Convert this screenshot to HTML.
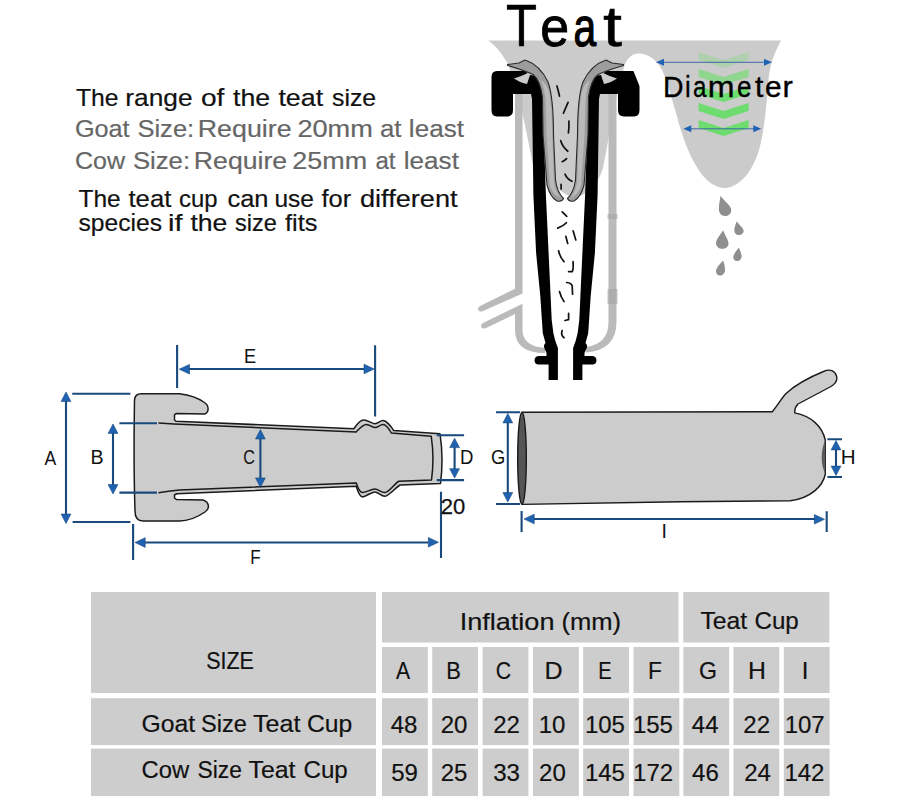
<!DOCTYPE html>
<html><head><meta charset="utf-8">
<style>
html,body{margin:0;padding:0;background:#fff;}
body{width:900px;height:800px;overflow:hidden;position:relative;}
svg{position:absolute;left:0;top:0;}
text{font-family:"Liberation Sans",sans-serif;}
</style></head>
<body>
<svg width="900" height="800" viewBox="0 0 900 800">
<!-- LEFT TEXT -->
<g font-size="24" fill="#111" stroke="#111" stroke-width="0.2">
<text transform="translate(75.98,105.7) scale(1.03,1)">The</text>
<text transform="translate(125.28,105.7) scale(1.097,1)">range</text>
<text transform="translate(200.92,105.7) scale(1.172,1)">of</text>
<text transform="translate(233.0,105.7) scale(1.113,1)">the</text>
<text transform="translate(278.39,105.7) scale(1.119,1)">teat</text>
<text transform="translate(331.98,105.7) scale(1.034,1)">size</text>
<text transform="translate(74.91,137) scale(1.051,1)" fill="#666" stroke="#666">Goat</text>
<text transform="translate(137.43,137) scale(1.064,1)" fill="#666" stroke="#666">Size:</text>
<text transform="translate(197.77,137) scale(1.116,1)" fill="#666" stroke="#666">Require</text>
<text transform="translate(297.4,137) scale(1.133,1)" fill="#666" stroke="#666">20mm</text>
<text transform="translate(379.95,137) scale(1.073,1)" fill="#666" stroke="#666">at</text>
<text transform="translate(408.87,137) scale(1.086,1)" fill="#666" stroke="#666">least</text>
<text transform="translate(74.92,169) scale(1.043,1)" fill="#666" stroke="#666">Cow</text>
<text transform="translate(132.88,169) scale(1.072,1)" fill="#666" stroke="#666">Size:</text>
<text transform="translate(193.84,169) scale(1.11,1)" fill="#666" stroke="#666">Require</text>
<text transform="translate(292.37,169) scale(1.122,1)" fill="#666" stroke="#666">25mm</text>
<text transform="translate(375.48,169) scale(1.003,1)" fill="#666" stroke="#666">at</text>
<text transform="translate(403.83,169) scale(1.086,1)" fill="#666" stroke="#666">least</text>
<text transform="translate(78.48,207) scale(1.02,1)">The</text>
<text transform="translate(128.49,207) scale(1.07,1)">teat</text>
<text transform="translate(179.01,207) scale(0.995,1)">cup</text>
<text transform="translate(227.43,207) scale(1.061,1)">can</text>
<text transform="translate(274.46,207) scale(1.022,1)">use</text>
<text transform="translate(321.46,207) scale(1.059,1)">for</text>
<text transform="translate(359.94,207) scale(1.133,1)">different</text>
<text transform="translate(78.48,231) scale(1.028,1)">species</text>
<text transform="translate(168.09,231) scale(1.207,1)">if</text>
<text transform="translate(190.41,231) scale(1.107,1)">the</text>
<text transform="translate(235.01,231) scale(0.981,1)">size</text>
<text transform="translate(285.0,231) scale(1.06,1)">fits</text>
</g>


<!-- TEAT SHAPE -->
<path fill="#cbcbcb" d="M488,40.5 L781,40.5 C776,50 770,62 768.5,80 C765.5,120 763,135 759,150 C754,166 746,180 733,186 C729.5,187.6 727.5,188 725.6,188 C716,188 707,182 700,172 C692,160 688,150 684.5,141 C682,133 679,125 677.5,118 C672,100 668,82 662,70 C657,61 649,53.6 638.5,53.6 C632,53.6 628,58 625,64 C614,100 609,140 603,168 C598,185 585,198 573,197 C563,195 557,187 552,183 C541,177 535,171 533,165 C527,135 521,100 508,64 C501,52 495,45 488,40.5 Z"/>
<!-- tubes -->
<g fill="#bababa">
<path d="M515,94 L522.5,94 L522.5,293.4 L482,311.5 Q478,312 478,308.5 Q478.5,306.5 480,306 L515,288.75 Z"/>
<path d="M522.5,303.75 L522.5,330 Q522.5,346 545,348 L545,353 Q515,353 515,330 L515,314 L485,328.5 Q481,329 481,325.5 Q481.5,323.5 483,323 Z"/>
<path d="M616.5,94 L608.5,94 L608.5,322 Q608.5,344 586,347 L586,352.5 Q616.5,350 616.5,322 Z"/>
</g>
<g fill="#a5a5a5" opacity="0.6"><rect x="607.5" y="214" width="10" height="5"/><rect x="607.5" y="289" width="10" height="15"/></g>
<!-- CUP LEFT HALF -->
<g id="halfL">
<!-- black shell -->
<path fill="#000" d="M491.5,77 Q491.5,71 497,71 L525,71 L527.5,73.3 Q521,76.5 514,78.5 Q521,83 527,84 L530,75 L537,76 L543,86 L542.5,97 L542.5,100 L545.9,195 L548.6,252.8 L550.6,296 L551.7,320 L553.4,333.3 L555.2,340.4 L557.9,348 L557.9,380 L548.6,380 L548.6,364.5 L538,364.5 Q534.5,364 534.5,360 Q535,356 539,356 L546.5,356 L546.5,353 L544.5,348.5 Q543,345.5 545.5,343 L542.8,333.3 L541.9,320 L540.3,296 L536.1,252.8 L533.4,195 L532,99 L531,94 L513,94 L513,110 Q513,116.5 507,116.5 L497,116.5 Q491.5,116.5 491.5,110 Z"/>
<!-- liner -->
<path fill="#9d9d9d" stroke="#2a2a2a" stroke-width="1.1" stroke-linejoin="round" d="M507.5,64.5 L519,63 L525,60 Q540,65 548,82 Q553.5,97 553.5,135 L555.5,180 Q557,192 563.5,198.5 Q562,202 557,201 Q550,197 547,185 L543,135 L542.5,97 Q540,80 533,74.5 Q522,69.5 507.5,65.5 Z"/>
<path fill="#bababa" d="M541,80 Q546,83 549,91 Q552,105 552.3,135 L553.8,182 Q555.5,192 560,197 Q553,195 550,186 L546.5,135 L545.5,100 Q544.5,88 541,80 Z"/>
</g>
<use href="#halfL" transform="translate(1131,0) scale(-1,1)"/>
<path fill="#fff" d="M633,70 L641,70 L641,86.5 L639.5,86 Z"/>
<!-- milk dashes -->
<g fill="none" stroke="#111" stroke-width="1.7" stroke-linecap="round">
<path d="M556.9,85.9 Q558.5,91 559.5,96.1"/>
<path d="M568.1,102.3 Q565.5,108 563.4,113.3"/>
<path d="M568.9,121.1 Q569.3,127 568.4,132.8"/>
<path d="M560.6,140.6 Q562.5,147 567.8,151.25"/>
<path d="M562.2,161.7 Q565,160.5 566.6,158.6"/>
<path d="M565,174.2 Q567,179 572,181.25"/>
<path d="M561.1,184.4 L561.1,189"/>
<path d="M562.2,211.8 L566.75,216.3"/>
<path d="M557.7,228.1 Q563.5,226 566.4,222.7"/>
<path d="M565.8,236.25 L567.7,243.5"/>
<path d="M573.1,230.8 L575.8,239.9"/>
<path d="M558.6,250.75 Q560,257.5 564,261.6"/>
<path d="M573.1,261.6 Q573.5,270 572.2,271.6 L568.6,271.6"/>
<path d="M566.75,282.5 Q571.5,283 572.2,286 L572.55,294.25"/>
<path d="M559.5,291.5 Q561,297.5 564,301.5"/>
<path d="M568.6,313.3 L568.6,319.6 L565,320.5"/>
<path d="M562.2,330.5 Q560.5,335 564,337.75"/>
</g>
<!-- CHEVRONS -->
<g fill="#6fdc6f">
<path d="M698.6,52 L723.5,60 L748.6,52 L748.6,60 L723.5,68 L698.6,60 Z" opacity="0.3"/>
<path d="M698.6,69 L723.5,77 L748.6,69 L748.6,77 L723.5,85 L698.6,77 Z" opacity="0.65"/>
<path d="M698.6,86 L723.5,94 L748.6,86 L748.6,94 L723.5,102 L698.6,94 Z"/>
<path d="M698.6,103 L723.5,111 L748.6,103 L748.6,111 L723.5,119 L698.6,111 Z"/>
<path d="M698.6,120 L723.5,128 L748.6,120 L748.6,128 L723.5,136 L698.6,128 Z"/>
</g>
<g stroke="#3a6aa3" stroke-width="1" fill="#1f63b5">
<path d="M662,62.3 H766 M689,128.8 H755" fill="none"/>
<path d="M656,62.3 L664,58.8 L664,65.8 Z M772,62.3 L764,58.8 L764,65.8 Z M683.3,128.8 L691.3,125.3 L691.3,132.3 Z M761.3,128.8 L753.3,125.3 L753.3,132.3 Z" stroke="none"/>
</g>
<!-- DROPS -->
<g fill="#8f8f8f">
<path d="M720.5,195.8 C724,201 731.3,206 731.3,210 C731.3,214 728,216 725,216 C721,216 718.9,213 718.9,209 C718.9,204 720,200 720.5,195.8 Z"/>
<path d="M736.8,221.3 C739,225 743.6,228 743.6,231 C743.6,233.5 741,235 739,235 C736,235 734.3,233 734.3,230 C734.3,227 736,224 736.8,221.3 Z"/>
<path d="M723,230.2 C725,235 728.5,240 728.5,243.5 C728.5,247 725.5,248.8 722.5,248.8 C719,248.8 716,246.5 716,243 C716,239 721,234 723,230.2 Z"/>
<path d="M738.8,247.4 C740.5,251 741.6,254 741.6,256.5 C741.6,259 739.5,261 737,261 C734.5,261 733.3,259 733.3,257 C733.3,254 737,250 738.8,247.4 Z"/>
<path d="M723,260.5 C724.5,264 725,267 725,270 C725,273.5 722.5,275.6 720,275.6 C717.5,275.6 716,273.5 716,271 C716,267.5 721,263 723,260.5 Z"/>
</g>
<g font-size="59" fill="#000" stroke="#000">
<text transform="translate(506.04,45.9) scale(0.86,0.99)" stroke-width="0.6">T</text>
<text transform="translate(540.22,45.9) scale(0.88,0.93)" stroke-width="0.9">e</text>
<text transform="translate(573.46,45.9) scale(0.69,0.93)" stroke-width="1.3">a</text>
<text transform="translate(602.97,45.9) scale(1.16,0.97)" stroke-width="0.5">t</text>
</g>
<g font-size="29.4" fill="#000" stroke="#000" stroke-width="0.35">
<text transform="translate(663.06,97) scale(0.968,1)">D</text>
<text transform="translate(685.1,97) scale(0.875,1)">i</text>
<text transform="translate(693.06,97) scale(0.821,1)">a</text>
<text transform="translate(707.87,97) scale(1.093,1)">m</text>
<text transform="translate(737.02,97) scale(0.887,1)">e</text>
<text transform="translate(754.99,97) scale(1.026,1)">t</text>
<text transform="translate(764.96,97) scale(1.015,1)">e</text>
<text transform="translate(782.39,97) scale(1.055,1)">r</text>
</g>
<!-- INFLATION DRAWING -->
<g stroke="#1a1a1a" stroke-width="1.5" stroke-linejoin="round" fill="#cccccc">
<path d="M141.3,393.7 L179.4,393.7 C190,395 199,398.5 204.5,402.5 C209.5,406 209,412.5 204.75,414 L176,413.6 L174.5,415 L174.5,420 L176,421.25 L353.75,428.75 C357,424 360,420 363.75,420 C368,420 372,423.75 375,423.75 C378,423.75 380,420.6 383,420.6 C386,420.6 391,426 393.75,430.6 L440,433.75 C442.5,450 442.5,468 440.5,483.5 L400,485 C395,488 389,496.25 385,496.25 C381,496.25 378,491.9 375,491.9 C371,491.9 366,496.9 362.5,496.9 C359,496.9 357.5,490 356.25,486.25 L176.6,493.75 L174.5,495 L174.5,498 L176.6,499.6 L203,500 C209,502 210.5,508 205,512 C197,517.5 188,521 179.4,521 L143,521 C137,521 135,517 135,511 C134,480 134,430 134.5,400 C134.7,396 137,393.7 141.3,393.7 Z"/>
<path fill="none" d="M158.5,423 Q166,423.5 174,424 L356.25,431.9 C360,428 363,424.4 366.25,424.4 C370,424.4 372,427.5 375,427.5 C378,427.5 380,424.6 383,424.6 C386,424.6 389,429 391.25,433 L431.25,436.25 Q434.5,458 431.5,480 L398.75,481.25 C394,484 389,492.5 385,492.5 C381,492.5 378,489 375,489 C371,489 366,492.5 362.5,492.5 C359,492.5 357.5,486 356.25,483 L179.4,490 Q168,491 158.5,492.8"/>
</g>
<!-- TEAT CUP DRAWING -->
<g stroke="#1a1a1a" stroke-width="1.4" stroke-linejoin="round">
<path fill="#cccccc" d="M522,412.2 L772.3,411.75 C778,405 781,399 785.8,393.75 C795,385 810,377 824,371.25 C830,368.5 835,371 836.5,376 C838,381 835,384 831,386.5 L798,404 C795,407 794.5,410 794.8,412.9 C811,416 822,426 825.3,440 L825.3,474 C823,486 811,498 790.3,500.8 L680,501.75 L522,504.4 C519,490 518,430 522,412.2 Z"/>
<ellipse cx="522" cy="458.3" rx="4.3" ry="46" fill="#555"/>
<path d="M825.3,440 C820.5,450 820.5,465 825.3,474 Z" fill="#5a5a5a" stroke="none"/>
</g>
<!-- DIMENSIONS -->
<g stroke="#1a4a7c" stroke-width="2.1" fill="none">
<path d="M72.25,393.7 H130.4 M72.6,522 H130.4 M66,400 V515"/>
<path d="M119.4,423.3 H157 M119.4,492.6 H157 M113,432 V486"/>
<path d="M260.4,438 V479"/>
<path d="M436.7,435.3 H464.1 M436.7,480.1 H464.1 M454.6,446 V470"/>
<path d="M177.1,345 V388 M375.1,345.2 V416.6 M188,369 H365"/>
<path d="M133.1,524 V560 M441,491.7 V558.1 M144,542.5 H428"/>
<path d="M496,412.2 H520 M496,504 H520 M507.8,422 V493"/>
<path d="M827.4,439.2 H842 M827.4,477 H842 M836,449 V466"/>
<path d="M521.6,511 V532 M826.7,511.2 V532.1 M533,519 H815"/>
</g>
<g fill="#1f62b2" stroke="#1a4a7c" stroke-width="0.6" stroke-linejoin="round">
<path d="M66,392.1 L70.9,401.5 L61.1,401.5 Z M66,523.5 L70.9,514 L61.1,514 Z"/>
<path d="M113,424 L117.9,433.4 L108.1,433.4 Z M113,494 L117.9,484.6 L108.1,484.6 Z"/>
<path d="M260.4,429.6 L265.3,439 L255.5,439 Z M260.4,487.3 L265.3,477.9 L255.5,477.9 Z"/>
<path d="M454.6,438.2 L459.5,447.6 L449.7,447.6 Z M454.6,478.1 L459.5,468.7 L449.7,468.7 Z"/>
<path d="M179.2,369.2 L189.5,364.4 L189.5,374.1 Z M374.2,369 L364,364.2 L364,373.8 Z"/>
<path d="M135,542.5 L145.2,537.7 L145.2,547.4 Z M438.5,542.3 L428.3,537.5 L428.3,547.1 Z"/>
<path d="M507.8,413.5 L512.7,422.9 L502.9,422.9 Z M507.8,502 L512.7,492.6 L502.9,492.6 Z"/>
<path d="M836,440.5 L840.9,449.9 L831.1,449.9 Z M836,475.5 L840.9,466.1 L831.1,466.1 Z"/>
<path d="M524,519 L534.2,514.2 L534.2,523.8 Z M824.5,519.3 L814.3,514.5 L814.3,524.1 Z"/>
</g>
<g font-size="19.5" fill="#111" stroke="none">
<text transform="translate(44.52,465) scale(0.904,1)">A</text>
<text transform="translate(90.41,463.8) scale(1.008,1)">B</text>
<text transform="translate(243.17,463.7) scale(0.833,1)">C</text>
<text transform="translate(460.05,464) scale(0.953,1)">D</text>
<text transform="translate(244.08,362.5) scale(0.932,1)">E</text>
<text transform="translate(250.19,563.9) scale(0.873,1)">F</text>
<text x="440.8" y="513.6" font-size="22" textLength="24.5" lengthAdjust="spacingAndGlyphs" stroke="#111" stroke-width="0.25">20</text>
<text transform="translate(491.01,464.4) scale(0.942,1)">G</text>
<text transform="translate(840.83,463.5) scale(1.057,1)">H</text>
<text x="661.5" y="538.4">I</text>
</g>
<!-- TABLE -->
<g fill="#cdcdcd">
<rect x="91" y="592" width="285" height="101"/>
<rect x="91" y="698.2" width="285" height="46.9"/>
<rect x="91" y="748.6" width="285" height="47.5"/>
<rect x="382" y="592" width="296.5" height="50.5"/>
<rect x="683.3" y="592" width="146" height="50.5"/>
</g>
<g fill="#cdcdcd">
<rect x="382" y="647" width="45.8" height="46"/>
<rect x="382" y="698.2" width="45.8" height="46.9"/>
<rect x="382" y="748.6" width="45.8" height="47.5"/>
<rect x="432.2" y="647" width="45.8" height="46"/>
<rect x="432.2" y="698.2" width="45.8" height="46.9"/>
<rect x="432.2" y="748.6" width="45.8" height="47.5"/>
<rect x="482.6" y="647" width="45.8" height="46"/>
<rect x="482.6" y="698.2" width="45.8" height="46.9"/>
<rect x="482.6" y="748.6" width="45.8" height="47.5"/>
<rect x="533" y="647" width="45.8" height="46"/>
<rect x="533" y="698.2" width="45.8" height="46.9"/>
<rect x="533" y="748.6" width="45.8" height="47.5"/>
<rect x="583.2" y="647" width="45.8" height="46"/>
<rect x="583.2" y="698.2" width="45.8" height="46.9"/>
<rect x="583.2" y="748.6" width="45.8" height="47.5"/>
<rect x="633.5" y="647" width="45.8" height="46"/>
<rect x="633.5" y="698.2" width="45.8" height="46.9"/>
<rect x="633.5" y="748.6" width="45.8" height="47.5"/>
<rect x="683.4" y="647" width="45.8" height="46"/>
<rect x="683.4" y="698.2" width="45.8" height="46.9"/>
<rect x="683.4" y="748.6" width="45.8" height="47.5"/>
<rect x="733.4" y="647" width="45.8" height="46"/>
<rect x="733.4" y="698.2" width="45.8" height="46.9"/>
<rect x="733.4" y="748.6" width="45.8" height="47.5"/>
<rect x="783.8" y="647" width="45.8" height="46"/>
<rect x="783.8" y="698.2" width="45.8" height="46.9"/>
<rect x="783.8" y="748.6" width="45.8" height="47.5"/>
</g>
<g font-size="24" fill="#111" stroke="#111" stroke-width="0.2" text-anchor="middle">
<text text-anchor="start" transform="translate(395.97,679) scale(0.879,1)">A</text>
<text x="404.0" y="733">48</text>
<text x="404.5" y="780.5">59</text>
<text text-anchor="start" transform="translate(446.16,679) scale(0.91,1)">B</text>
<text x="454.0" y="733">20</text>
<text x="454.0" y="780.5">25</text>
<text text-anchor="start" transform="translate(495.63,679) scale(0.882,1)">C</text>
<text x="506.6" y="733">22</text>
<text x="506.6" y="780.5">33</text>
<text text-anchor="start" transform="translate(544.38,679) scale(1.045,1)">D</text>
<text x="552.0" y="733">10</text>
<text x="552.4" y="780.5">20</text>
<text text-anchor="start" transform="translate(598.33,679) scale(0.834,1)">E</text>
<text x="604.9" y="733">105</text>
<text x="604.9" y="780.5">145</text>
<text text-anchor="start" transform="translate(648.06,679) scale(0.95,1)">F</text>
<text x="652.9" y="733">155</text>
<text x="653.1" y="780.5">172</text>
<text text-anchor="start" transform="translate(699.06,679) scale(0.963,1)">G</text>
<text x="705.2" y="733">44</text>
<text x="705.4" y="780.5">46</text>
<text text-anchor="start" transform="translate(747.91,679) scale(1.034,1)">H</text>
<text x="756.7" y="733">22</text>
<text x="757.6" y="780.5">24</text>
<text x="805.2" y="679">I</text>
<text x="804.7" y="733">107</text>
<text x="804.4" y="780.5">142</text>
</g>
<g font-size="24" fill="#111" stroke="#111" stroke-width="0.2" text-anchor="middle">
<text text-anchor="start" transform="translate(206.13,669) scale(0.894,1)">SIZE</text>
<text text-anchor="start" transform="translate(141.46,732) scale(1.032,1)">Goat</text>
<text text-anchor="start" transform="translate(201.01,732) scale(0.983,1)">Size</text>
<text text-anchor="start" transform="translate(252.97,732) scale(1.045,1)">Teat</text>
<text text-anchor="start" transform="translate(306.95,732) scale(1.029,1)">Cup</text>
<text text-anchor="start" transform="translate(141.51,778.3) scale(0.992,1)">Cow</text>
<text text-anchor="start" transform="translate(197.57,778.3) scale(0.95,1)">Size</text>
<text text-anchor="start" transform="translate(248.47,778.3) scale(1.036,1)">Teat</text>
<text text-anchor="start" transform="translate(303.49,778.3) scale(1.005,1)">Cup</text>
<text text-anchor="start" transform="translate(459.66,629.5) scale(1.128,1)">Inflation</text>
<text text-anchor="start" transform="translate(561.42,629.5) scale(1.067,1)">(mm)</text>
<text text-anchor="start" transform="translate(700.48,629) scale(1.031,1)">Teat</text>
<text text-anchor="start" transform="translate(754.48,629) scale(1.005,1)">Cup</text>
</g>
</svg>
</body></html>
